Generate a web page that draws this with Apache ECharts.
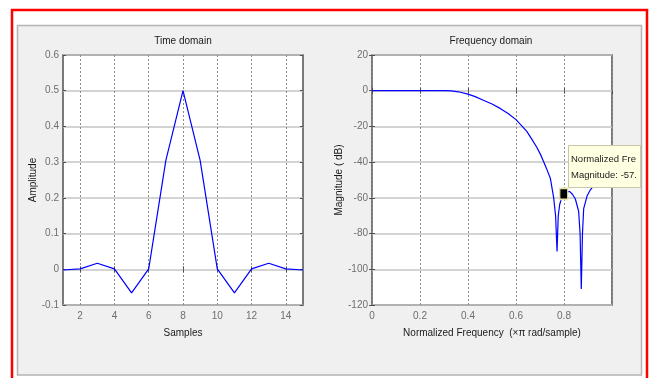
<!DOCTYPE html>
<html>
<head>
<meta charset="utf-8">
<script src="https://cdn.jsdelivr.net/npm/echarts@6/dist/echarts.min.js"></script>
<style>
  html, body { margin: 0; padding: 0; background: #fff; }
  #chart { width: 650px; height: 378px; }
</style>
</head>
<body>
<div id="chart"></div>
<script>
// time domain: filter taps
const samples = [1, 2, 3, 4, 5, 6, 7, 8, 9, 10, 11, 12, 13, 14, 15]
const amplitude = [-0.002, 0.001, 0.017, 0.001, -0.066, 0.001, 0.305, 0.5, 0.305, 0.001, -0.066, 0.001, 0.017, 0.001, -0.002]
const sampleTicks = [2, 4, 6, 8, 10, 12, 14]

// frequency domain
const freq = [0, 0.1, 0.2, 0.3, 0.33, 0.36, 0.4, 0.43, 0.464, 0.5, 0.534, 0.567, 0.6, 0.625, 0.645, 0.665,
  0.686, 0.705, 0.727, 0.743, 0.757, 0.765, 0.771, 0.776, 0.782, 0.79, 0.799, 0.81, 0.824, 0.835,
  0.847, 0.861, 0.867, 0.872, 0.877, 0.882, 0.896, 0.91, 0.93, 0.96, 1.0]
const magDb = [0, 0, 0, 0, -0.1, -0.6, -1.9, -3.3, -5.3, -7.4, -9.9, -12.8, -16.2, -19.8, -22.8, -27,
  -31.5, -36.5, -43.5, -49, -60, -70, -90, -70, -63.7, -60, -57.72, -56.5, -56.5, -58,
  -60.5, -67.5, -80, -111, -80, -66, -59, -55.5, -52, -49, -48]

// data cursor
const cursorFreq = [0.799]
const cursorMag = [-57.72]
const cursorLines = ['Normalized Frequ', 'Magnitude: -57.72']

const FONT = '"Liberation Sans", Arial, sans-serif'
const FS = 10
const frameColor = '#505050'
const tickColor = '#6e6e6e'

var chart = echarts.init(document.getElementById('chart'))

function xAx(gridIndex, opts, top) {
  return Object.assign({
    type: 'value',
    gridIndex: gridIndex,
    position: top ? 'top' : 'bottom',
    axisLine: { show: false },
    axisTick: { show: true, inside: true, length: 3, lineStyle: { color: frameColor } },
    axisLabel: { show: !top, color: tickColor, fontFamily: FONT, fontSize: FS, margin: 6 },
    splitLine: { show: !top, lineStyle: { color: '#8c8c8c', width: 1, type: [2, 2] } }
  }, opts)
}

function yAx(gridIndex, opts, right) {
  return Object.assign({
    type: 'value',
    gridIndex: gridIndex,
    position: right ? 'right' : 'left',
    axisLine: { show: false },
    axisTick: { show: true, inside: true, length: 3, lineStyle: { color: frameColor } },
    axisLabel: { show: !right, color: tickColor, fontFamily: FONT, fontSize: FS, margin: 4 },
    splitLine: { show: !right, lineStyle: { color: '#c4c4c4', width: 1.5 } }
  }, opts)
}

const nameStyle = { color: '#1a1a1a', fontFamily: FONT, fontSize: FS }

const timeX = {
  min: 1, max: 15,
  axisTick: { show: true, inside: true, length: 3, customValues: sampleTicks, lineStyle: { color: frameColor } }
}
const freqX = { min: 0, max: 1, interval: 0.2 }

var option = {
  animation: false,
  backgroundColor: '#fff',
  grid: [
    { left: 63, top: 55, width: 240, height: 250, show: true, backgroundColor: '#fff', borderColor: frameColor, borderWidth: 1.5 },
    { left: 372, top: 55, width: 240, height: 250, show: true, backgroundColor: '#fff', borderColor: frameColor, borderWidth: 1.5 }
  ],
  xAxis: [
    xAx(0, Object.assign({}, timeX, {
      name: 'Samples', nameLocation: 'middle', nameGap: 23, nameTextStyle: nameStyle,
      axisLabel: { customValues: sampleTicks, color: tickColor, fontFamily: FONT, fontSize: FS, margin: 6 }
    })),
    xAx(0, timeX, true),
    xAx(1, Object.assign({}, freqX, {
      name: 'Normalized Frequency  (\u00d7\u03c0 rad/sample)', nameLocation: 'middle', nameGap: 23, nameTextStyle: nameStyle,
      axisLabel: { showMaxLabel: false, color: tickColor, fontFamily: FONT, fontSize: FS, margin: 6 }
    })),
    xAx(1, freqX, true)
  ],
  yAxis: [
    yAx(0, {
      min: -0.1, max: 0.6, interval: 0.1,
      name: 'Amplitude', nameLocation: 'middle', nameGap: 25, nameTextStyle: nameStyle,
      axisLabel: { color: tickColor, fontFamily: FONT, fontSize: FS, margin: 4, formatter: v => String(+v.toFixed(1)) }
    }),
    yAx(0, { min: -0.1, max: 0.6, interval: 0.1 }, true),
    yAx(1, {
      min: -120, max: 20, interval: 20,
      name: 'Magnitude ( dB)', nameLocation: 'middle', nameGap: 27, nameTextStyle: nameStyle
    }),
    yAx(1, { min: -120, max: 20, interval: 20 }, true)
  ],
  series: [
    {
      type: 'line', xAxisIndex: 0, yAxisIndex: 0,
      data: samples.map((s, i) => [s, amplitude[i]]),
      symbol: 'none', lineStyle: { color: '#0000ff', width: 1.2 }
    },
    {
      type: 'line', xAxisIndex: 2, yAxisIndex: 2,
      data: freq.map((f, i) => [f, magDb[i]]),
      symbol: 'none', lineStyle: { color: '#0000ff', width: 1.2 }
    },
    {
      type: 'scatter', xAxisIndex: 2, yAxisIndex: 2, z: 5,
      data: cursorFreq.map((f, i) => [f, cursorMag[i]]),
      symbol: 'rect', symbolSize: [8, 11],
      itemStyle: { color: '#000', borderColor: '#e6e2a8', borderWidth: 1.5, opacity: 1 }
    }
  ],
  graphic: [
    // red outline + gray figure panel
    { type: 'rect', z: -10, shape: { x: 12, y: 10, width: 635, height: 400 },
      style: { fill: 'none', stroke: '#ff0000', lineWidth: 2.5 } },
    { type: 'rect', z: -9, shape: { x: 17.5, y: 25.5, width: 624, height: 349.5 },
      style: { fill: '#f0f0f0', stroke: '#b4b4b4', lineWidth: 1.5 } },
    { type: 'text', z: 10, style: { text: 'Time domain', x: 183, y: 41, textAlign: 'center', textVerticalAlign: 'middle',
      fill: '#1a1a1a', font: FS + 'px ' + FONT } },
    { type: 'text', z: 10, style: { text: 'Frequency domain', x: 491, y: 41, textAlign: 'center', textVerticalAlign: 'middle',
      fill: '#1a1a1a', font: FS + 'px ' + FONT } },
    // data cursor box
    { type: 'rect', z: 100, shape: { x: 568.5, y: 145.5, width: 72, height: 42 },
      style: { fill: '#ffffe1', stroke: '#c8c8a8', lineWidth: 1 } },
    { type: 'text', z: 101, style: { text: cursorLines[0], x: 571, y: 159, textVerticalAlign: 'middle',
      width: 69, overflow: 'truncate', ellipsis: '', fill: '#222', font: '9.5px ' + FONT } },
    { type: 'text', z: 101, style: { text: cursorLines[1], x: 571, y: 175, textVerticalAlign: 'middle',
      width: 69, overflow: 'truncate', ellipsis: '', fill: '#222', font: '9.5px ' + FONT } }
  ]
}

chart.setOption(option)
</script>
</body>
</html>
